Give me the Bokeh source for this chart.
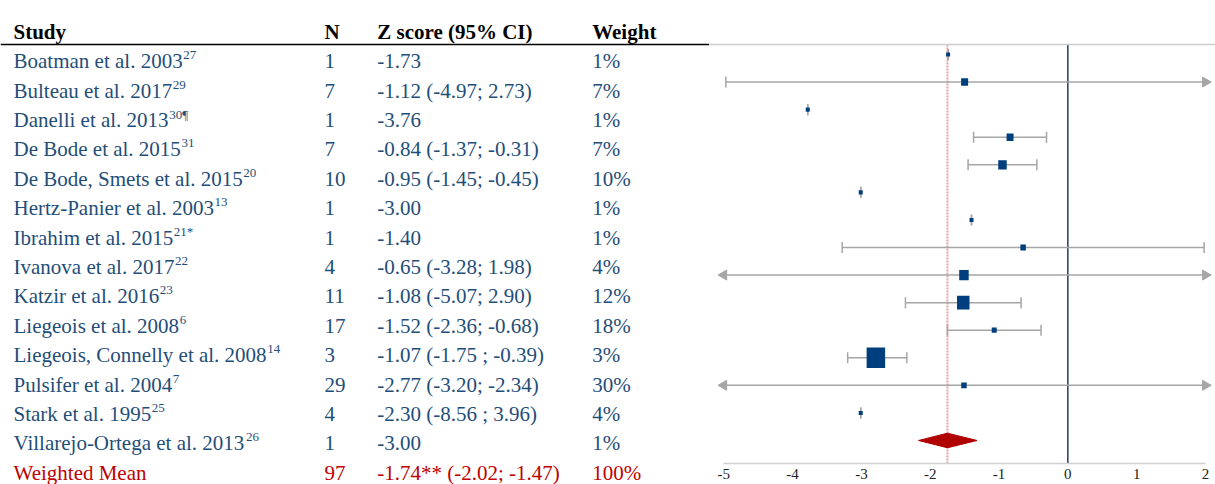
import numpy as np
from bokeh.plotting import figure
from bokeh.models import Range1d, ColumnDataSource, Span, LinearAxis, FixedTicker
from bokeh.layouts import row
from bokeh.embed import file_html
from bokeh.resources import INLINE
from bokeh.core.properties import value

# ---------------- data ----------------
studies = ["Boatman et al. 2003", "Bulteau et al. 2017", "Danelli et al. 2013",
           "De Bode et al. 2015", "De Bode, Smets et al. 2015", "Hertz-Panier et al. 2003",
           "Ibrahim et al. 2015", "Ivanova et al. 2017", "Katzir et al. 2016",
           "Liegeois et al. 2008", "Liegeois, Connelly et al. 2008", "Pulsifer et al. 2004",
           "Stark et al. 1995", "Villarejo-Ortega et al. 2013"]
ref_marks = ["27", "29", "30¶", "31", "20", "13", "21*", "22", "23", "6", "14", "7", "25", "26"]
n_values = [1, 7, 1, 7, 10, 1, 1, 4, 11, 17, 3, 29, 4, 1]
z_labels = ["-1.73", "-1.12 (-4.97; 2.73)", "-3.76", "-0.84 (-1.37; -0.31)",
            "-0.95 (-1.45; -0.45)", "-3.00", "-1.40", "-0.65 (-3.28; 1.98)",
            "-1.08 (-5.07; 2.90)", "-1.52 (-2.36; -0.68)", "-1.07 (-1.75 ; -0.39)",
            "-2.77 (-3.20; -2.34)", "-2.30 (-8.56 ; 3.96)", "-3.00"]
weights = [1, 7, 1, 7, 10, 1, 1, 4, 12, 18, 3, 30, 4, 1]

# positions as drawn in the forest plot
plot_est = [-1.74, -1.50, -3.78, -0.84, -0.95, -3.01, -1.40, -0.65, -1.51, -1.52, -1.07, -2.79, -1.51, -3.01]
ci_lo = [-1.74, -4.97, -3.78, -1.37, -1.45, -3.01, -1.40, -3.28, -5.07, -2.36, -1.75, -3.20, -8.56, -3.01]
ci_hi = [-1.74, 2.73, -3.78, -0.31, -0.45, -3.01, -1.40, 1.98, 2.90, -0.68, -0.39, -2.34, 3.96, -3.01]

summary_label = "Weighted Mean"
summary_n = 97
summary_z = "-1.74** (-2.02; -1.47)"
summary_weight = "100%"
summary_est, summary_lo, summary_hi = -1.75, -2.17, -1.32

headers = ["Study", "N", "Z score (95% CI)", "Weight"]
axis_ticks = [-5, -4, -3, -2, -1, 0, 1, 2]
tick_labels = ["-5", "-4", "-3", "-2", "-1", "0", "1", "2"]

# ---------------- styling / layout ----------------
FONT = "Liberation Serif"
NAVY_TXT = "#1f4e79"
RED_TXT = "#c00000"
SQ_COLOR = "#003f7d"
WHISK = "#a6a6a6"
H = 484
FRAME_TOP = 44
FRAME_BOT = 463

TW = {" ": 250, "-": 333, ",": 250, ".": 250, "*": 500, "(": 333, ")": 333, ";": 278}
TW.update({d: 500 for d in "0123456789"})
TW.update(dict(zip("ABCDEFGHIJKLMNOPQRSTUVWXYZ",
                   [722, 667, 667, 722, 611, 556, 722, 722, 333, 389, 722, 611, 889,
                    722, 722, 556, 722, 667, 556, 611, 722, 722, 944, 722, 722, 611])))
TW.update(dict(zip("abcdefghijklmnopqrstuvwxyz",
                   [444, 500, 444, 500, 444, 333, 500, 500, 278, 278, 500, 278, 778,
                    500, 500, 500, 500, 333, 389, 278, 500, 500, 722, 500, 500, 444])))

def text_width(s, size):
    return sum(TW.get(c, 500) for c in s) * size / 1000.0

# ---------------- table figure ----------------
W_TAB = 709
ROW_PX = 29.4
ROW0_PX = 67.7
SHIFT = 7.0 / ROW_PX   # renderer places baseline slightly low; lift texts
tab = figure(width=W_TAB, height=H, x_range=Range1d(0, W_TAB),
             y_range=Range1d((H - ROW0_PX) / ROW_PX, -ROW0_PX / ROW_PX),
             x_axis_type=None, y_axis_type=None, output_backend="svg",
             toolbar_location=None, min_border=0, outline_line_color=None)
tab.frame_align = False
tab.grid.visible = False
tab.add_layout(Span(location=(FRAME_TOP - ROW0_PX) / ROW_PX, dimension="width",
                    line_color="black", line_width=1.5))

COL_X = [13, 324, 376.7, 591.7]
n_rows = len(studies)
rows = list(range(n_rows))

tab.text(x=COL_X, y=[-1 - SHIFT] * 4, text=headers, text_font=value(FONT),
         text_font_size="21px", text_font_style="bold", text_color="black",
         text_baseline="alphabetic")

body = ColumnDataSource(dict(
    y=[r - SHIFT for r in rows + [n_rows]],
    study=studies + [summary_label],
    n=[str(v) for v in n_values] + [str(summary_n)],
    z=z_labels + [summary_z],
    w=[f"{v}%" for v in weights] + [summary_weight],
    color=[NAVY_TXT] * n_rows + [RED_TXT],
))
for col, x in zip(["study", "n", "z", "w"], COL_X):
    tab.text(x=x, y="y", text=col, source=body, text_font=value(FONT),
             text_font_size="21px", text_color="color", text_baseline="alphabetic")

sup_x = [COL_X[0] + text_width(s, 21) + 0.5 for s in studies]
sup_y = [r - SHIFT - 6.0 / ROW_PX for r in rows]
tab.text(x=sup_x, y=sup_y, text=ref_marks, text_font=value(FONT), text_font_size="13px",
         text_color=NAVY_TXT, text_baseline="alphabetic")

# ---------------- forest figure ----------------
W_F = 1215 - W_TAB
PX_UNIT = 68.81
x0 = axis_ticks[0] - (723.3 - W_TAB) / PX_UNIT
F_ROW = 27.57
top_row = -(54 - FRAME_TOP) / F_ROW
bot_row = top_row + (FRAME_BOT - FRAME_TOP) / F_ROW

fp = figure(width=W_F, height=H, x_range=Range1d(x0, x0 + W_F / PX_UNIT),
            y_range=Range1d(bot_row, top_row), y_axis_type=None,
            output_backend="svg", toolbar_location=None,
            min_border_left=0, min_border_right=0, min_border_top=FRAME_TOP,
            min_border_bottom=H - FRAME_BOT, outline_line_color=None)
fp.frame_align = False
fp.grid.visible = False
ax = fp.xaxis[0]
ax.ticker = FixedTicker(ticks=axis_ticks)
ax.major_label_overrides = dict(zip(axis_ticks, tick_labels))
ax.bounds = (axis_ticks[0], axis_ticks[-1])
ax.axis_line_color = "#d0d0d0"
ax.axis_line_width = 1.5
ax.major_tick_line_color = None
ax.minor_tick_line_color = None
ax.major_tick_out = 0
ax.major_tick_in = 0
ax.major_label_standoff = 5
ax.major_label_text_font = FONT
ax.major_label_text_font_size = "15px"
ax.major_label_text_color = "#222222"

fp.add_layout(LinearAxis(ticker=FixedTicker(ticks=[]), axis_line_color="#cccccc",
                         axis_line_width=1.5, major_tick_line_color=None,
                         minor_tick_line_color=None, major_label_text_font_size="0px",
                         major_tick_out=0, major_tick_in=0, major_label_standoff=0), "above")

fp.add_layout(Span(location=0, dimension="height", line_color="#1f3c5e",
                   line_width=1.5, level="underlay"))
fp.add_layout(Span(location=summary_est, dimension="height", line_color="#e3a3a3",
                   line_width=2, line_dash="2 1", level="underlay"))

lo_b, hi_b = axis_ticks[0], axis_ticks[-1]
seg_x0 = [max(l, lo_b) for l in ci_lo]
seg_x1 = [min(h, hi_b) for h in ci_hi]
fp.segment(x0=seg_x0, y0=rows, x1=seg_x1, y1=rows, line_color=WHISK, line_width=1.5)

cap_x = [l for l in ci_lo if l >= lo_b] + [h for h in ci_hi if h <= hi_b]
cap_y = [r for r, l in zip(rows, ci_lo) if l >= lo_b] + [r for r, h in zip(rows, ci_hi) if h <= hi_b]
fp.scatter(x=cap_x, y=cap_y, marker="dash", angle=np.pi / 2, size=11,
           line_color=WHISK, line_width=1.5)

left_y = [r for r, l in zip(rows, ci_lo) if l < lo_b]
right_y = [r for r, h in zip(rows, ci_hi) if h > hi_b]
fp.scatter(x=[lo_b] * len(left_y), y=left_y, marker="triangle", angle=np.pi / 2,
           size=10, fill_color=WHISK, line_color=WHISK)
fp.scatter(x=[hi_b] * len(right_y), y=right_y, marker="triangle", angle=-np.pi / 2,
           size=10, fill_color=WHISK, line_color=WHISK)

wts = np.array(weights, dtype=float)
fp.rect(x=plot_est, y=rows, width=3.5 + 0.5 * wts, height=3.5 + 0.57 * wts,
        width_units="screen", height_units="screen", fill_color=SQ_COLOR,
        line_color=None)

hh = 7.3 / F_ROW
fp.patch(x=[summary_lo, summary_est, summary_hi, summary_est],
         y=[n_rows, n_rows - hh, n_rows, n_rows + hh],
         fill_color="#b00000", line_color="#b00000")

layout = row(tab, fp, spacing=0)
open("out.html", "w").write(file_html(layout, INLINE))
